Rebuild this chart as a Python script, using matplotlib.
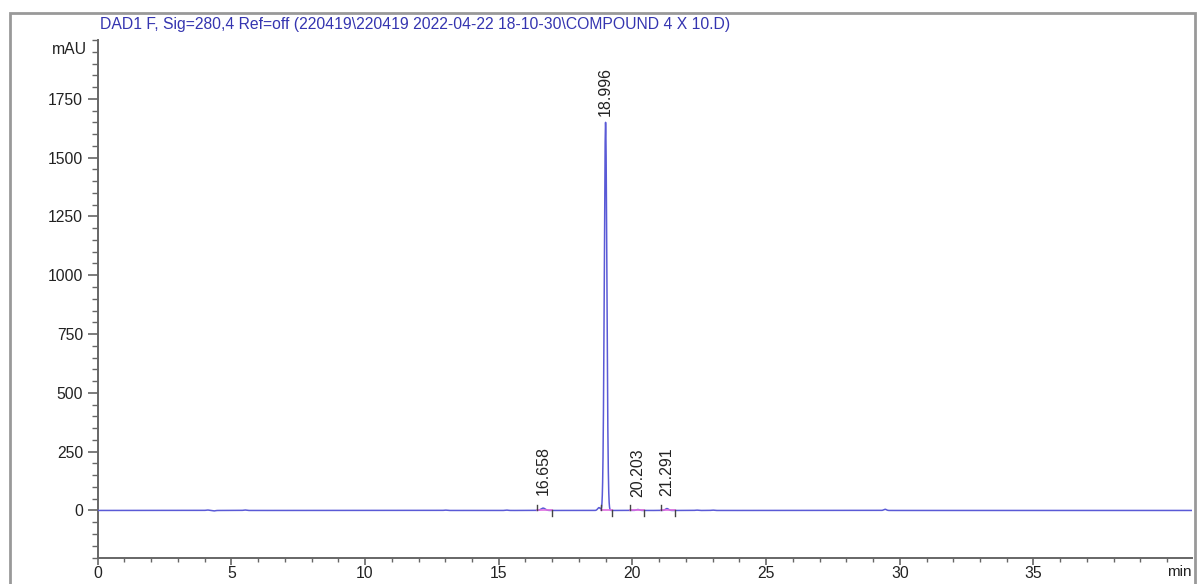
import numpy as np
import matplotlib
matplotlib.use("Agg")
import matplotlib.pyplot as plt
from matplotlib.patches import Rectangle
from matplotlib.ticker import MultipleLocator

plt.rcParams['font.family'] = ['Liberation Sans', 'DejaVu Sans']

title = r"DAD1 F, Sig=280,4 Ref=off (220419\220419 2022-04-22 18-10-30\COMPOUND 4 X 10.D)"

# Integrated peaks (retention time, height mAU, width sigma min)
peak_rt = [16.658, 18.996, 20.203, 21.291]
peak_height = [10, 1650, 4, 8]
peak_sigma = [0.08, 0.048, 0.06, 0.06]
peak_labels = ["16.658", "18.996", "20.203", "21.291"]
# integration start / end times
peak_start = [16.42, 18.82, 19.92, 21.08]
peak_end = [16.98, 19.25, 20.45, 21.58]

# small non-integrated baseline bumps (time, height mAU)
bump_rt = [4.1, 4.35, 5.5, 13.0, 15.3, 18.75, 22.4, 23.0, 29.45]
bump_height = [2, -2, 2, 1.5, 1.5, 12, 1.5, 1.5, 5]

x_min, x_max = 0, 40.93
y_min, y_max = -200, 2000

fig = plt.figure(figsize=(11.98, 5.84), dpi=100)
fig.patch.set_facecolor('white')
ax = fig.add_axes([97.7/1198, 1-557.5/584, (1192-97.7)/1198, (557.5-40)/584])

t = np.linspace(x_min, x_max, 20000)
sig = np.zeros_like(t)
for rt, h, s in zip(peak_rt, peak_height, peak_sigma):
    sig += h*np.exp(-0.5*((t-rt)/s)**2)
for rt, h in zip(bump_rt, bump_height):
    sig += h*np.exp(-0.5*((t-rt)/0.05)**2)

line_col = '#5a5ad6'
ax.plot(t, sig, color=line_col, lw=1.1, zorder=3)

# integration baselines and start/end markers
for s0, e0 in zip(peak_start, peak_end):
    ax.plot([s0, e0], [0, 0], color='#e070e0', lw=1.2, zorder=4)
    ax.plot([s0, s0], [0, 22], color='#444444', lw=1.0, zorder=4)
    ax.plot([e0, e0], [0, -22], color='#444444', lw=1.0, zorder=4)

for rt, h, lab in zip(peak_rt, peak_height, peak_labels):
    ax.text(rt, h + (25 if h > 100 else 55), lab, rotation=90, ha='center', va='bottom',
            fontsize=11.5, color='#222222')

ax.set_xlim(x_min, x_max)
ax.set_ylim(y_min, y_max)
ax.xaxis.set_major_locator(MultipleLocator(5))
ax.xaxis.set_minor_locator(MultipleLocator(1))
ax.set_yticks([0, 250, 500, 750, 1000, 1250, 1500, 1750])
ax.yaxis.set_minor_locator(MultipleLocator(50))
ax.set_xticks([0, 5, 10, 15, 20, 25, 30, 35])

for side in ['top', 'right']:
    ax.spines[side].set_visible(False)
for side in ['left', 'bottom']:
    ax.spines[side].set_color('#666666')
    ax.spines[side].set_linewidth(1.4)
ax.tick_params(which='major', length=7, width=1.2, color='#666666', labelsize=11.3, labelcolor='#222222')
ax.tick_params(which='minor', length=4, width=1.0, color='#666666')
ax.tick_params(axis='x', which='major', length=5, pad=1)
ax.tick_params(axis='x', which='minor', length=3)
ax.set_facecolor('white')

ax.text(-0.01, 1960, "mAU", transform=ax.get_yaxis_transform(), ha='right', va='center',
        fontsize=11.3, color='#222222')
ax.text(1.0, -0.028, "min", transform=ax.transAxes, ha='right', va='center', fontsize=11, color='#222222')

fig.text(100/1198, 1-25/584, title, ha='left', va='center', fontsize=11.3, color='#3535b0')

fig.patches.append(Rectangle((10/1198, -0.1), (1195-10)/1198, 1.1-13/584, transform=fig.transFigure,
                             fill=False, edgecolor='#999999', lw=2))

fig.savefig("out.png", dpi=100)
